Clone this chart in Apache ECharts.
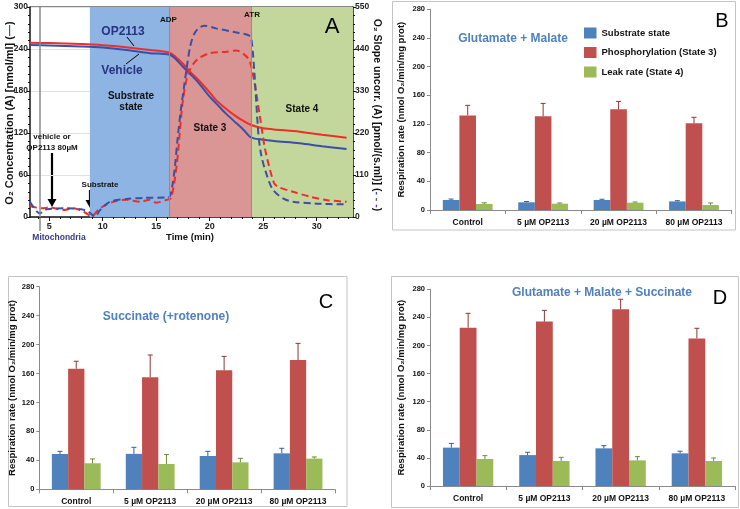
<!DOCTYPE html>
<html><head><meta charset="utf-8">
<script src="https://cdn.jsdelivr.net/npm/echarts@6/dist/echarts.min.js"></script>
<style>html,body{margin:0;padding:0;background:#fff}#c{width:740px;height:509px}</style>
</head><body><div id="c"></div>
<script>
// ---------- Panel A data (time in min) ----------
const o2OpT  = [3.2,5,8,10,12,14.4,16.2,16.8,17.5,18.15,19,20,20.6,21.5,22.5,23.3,23.9,24.5,25,26,28.4,30.5,32.8];
const o2OpV  = [249,248.5,247,245.5,243,238.6,235,229,219,207.6,195,178,167,155,143.3,136,131.4,128.5,126.7,125,121.9,117.5,113.3];
const o2VehT = [3.2,5,8,10,12,14.4,16.2,16.8,17.5,18.2,19,20,20.6,21.5,22.5,23.2,23.76,24.2,24.7,26,28.4,30.5,32.8];
const o2VehV = [245.7,245,243.5,242,239,234,232,226,214.7,204,191,172,162.4,148,133.9,124,114.7,112,111,108.5,105.3,101,97];
const slopeVehT = [3.2,4.13,4.76,6.6,8.0,8.65,9.27,9.74,10.67,12.2,13.8,16.0,16.25,16.5,16.75,17.0,17.3,17.55,17.85,18.2,18.6,19.0,19.5,20.6,22.2,23.76,23.95,24.2,24.55,24.8,25.2,25.9,26.9,27.8,30,32.8];
const slopeVehV = [40,9.6,20,22.7,20,14,1,18,40,47,50,51,53,80,132,205,280,330,390,450,482,495,501,494,485,474,455,370,219,165,122,72,48,40,35,33];
const slopeOpT = [3.2,4.3,5.06,6.3,7.25,8.2,8.96,9.74,11,12.2,13.5,14.4,15,16,16.4,16.9,17.2,17.5,18,18.78,20,21.6,22.5,23.3,23.76,24.2,24.7,25.2,26,26.4,27.8,29.4,31,32.8];
const slopeOpV = [29,22.7,25,18.3,22.7,14,2.6,22.7,40,45,40,45,37.5,45,50,132,219,306,376,411,429,433,436,424,407,350,263,175,90,79,66,53,44,40];
const regionStart = [8.8, 16.2, 23.9];
const regionEnd   = [16.2, 23.9, 33.4];
const eventLines  = [16.2, 23.9];
const mitoTime    = 4.13;
const timeTicks   = [5, 10, 15, 20, 25, 30];
const timeMinor   = [4,5,6,7,8,9,10,11,12,13,14,15,16,17,18,19,20,21,22,23,24,25,26,27,28,29,30,31,32,33];

// ---------- Panels B, C, D ----------
const categories = ['Control', '5 µM OP2113', '20 µM OP2113', '80 µM OP2113'];
const seriesNames = ['Substrate state', 'Phosphorylation (State 3)', 'Leak rate (State 4)'];
const bSub = [14, 10.7, 14, 12],      bSubErr = [1.3, 1.2, 1, 1];
const bS3  = [132, 130.7, 140.5, 121], bS3Err = [14, 18, 11, 8.3];
const bS4  = [8.4, 8.8, 10.2, 7],     bS4Err = [1.6, 1, 1, 2.8];
const cSub = [48.8, 49, 46, 49.7],    cSubErr = [3.7, 9, 6.5, 7];
const cS3  = [166.7, 155, 164.4, 178.7], cS3Err = [10.3, 30.6, 19.3, 23];
const cS4  = [36, 35, 37.3, 42.4],    cS4Err = [6, 13, 5.5, 2.3];
const dSub = [54.6, 44, 53.6, 46.5],  dSubErr = [6, 4, 3.8, 3];
const dS3  = [225.4, 234, 251.5, 210], dS3Err = [20.4, 16, 14.3, 14.5];
const dS4  = [38.4, 35.6, 36.5, 35.6], dS4Err = [4.8, 5.2, 5.3, 4.3];
const barTicks = [0, 40, 80, 120, 160, 200, 240, 280];

const FONT = '"Liberation Sans", Arial, sans-serif';
const barColors = ['#4f81bd', '#c0504d', '#9bbb59'];
const errColors = ['#3b5f8c', '#8a3836', '#6e8a3a'];
const regionColors = ['#8db4e2', '#d99694', '#c3d69b'];
const RED = '#ec2f2c', BLUE = '#3c4fa6', NAVY = '#27337e';
const GAP = 0.34;

const zip = (t, v) => t.map((x, i) => [x, v[i]]);

function barYAxis(grid, nameGap) {
  return {
    type: 'value', gridIndex: grid, min: 0, max: barTicks[barTicks.length - 1], interval: 40,
    name: 'Respiration rate (nmol O₂/min/mg prot)', nameLocation: 'middle', nameGap: nameGap,
    nameTextStyle: { fontFamily: FONT, fontWeight: 'bold', fontSize: 9.5, color: '#111' },
    axisLine: { show: true, lineStyle: { color: '#8a8a8a', width: 1 } },
    axisTick: { show: true, length: 3, lineStyle: { color: '#8a8a8a' } },
    axisLabel: { fontFamily: FONT, fontWeight: 'bold', fontSize: 7.5, color: '#111', margin: 5 },
    splitLine: { show: false }
  };
}
function barXAxis(grid) {
  return {
    type: 'category', gridIndex: grid, data: categories,
    axisLine: { lineStyle: { color: '#8a8a8a', width: 1 } },
    axisTick: { show: true, length: 4, lineStyle: { color: '#8a8a8a' } },
    axisLabel: { interval: 0, fontFamily: FONT, fontWeight: 'bold', fontSize: 8.5, color: '#111', margin: 8 }
  };
}
function barSeries(xi, yi, vals, k) {
  return { type: 'bar', name: seriesNames[k], xAxisIndex: xi, yAxisIndex: yi, data: vals,
    barGap: '0%', barCategoryGap: (GAP * 100) + '%', itemStyle: { color: barColors[k] }, silent: true };
}
function errSeries(xi, yi, vals, errs, k) {
  return {
    type: 'custom', xAxisIndex: xi, yAxisIndex: yi, z: 5, silent: true,
    data: vals.map((v, i) => [i, v, v + errs[i]]),
    renderItem: function (params, api) {
      const base = api.coord([api.value(0), api.value(1)]);
      const top = api.coord([api.value(0), api.value(2)]);
      const band = api.size([1, 0])[0];
      const bw = band * (1 - GAP) / 3;
      const x = base[0] + (k - 1) * bw;
      const st = { stroke: errColors[k], lineWidth: 1 };
      return { type: 'group', children: [
        { type: 'line', shape: { x1: x, y1: base[1], x2: x, y2: top[1] }, style: st },
        { type: 'line', shape: { x1: x - 2.5, y1: top[1], x2: x + 2.5, y2: top[1] }, style: st }
      ] };
    }
  };
}
function txt(x, y, text, size, opts) {
  opts = opts || {};
  return { type: 'text', x: x, y: y, rotation: opts.rot || 0, z: 100, silent: true,
    style: { text: text, fontFamily: FONT, fontSize: size, fontWeight: opts.weight || 'bold',
      fill: opts.color || '#111', align: opts.align || 'center', verticalAlign: 'middle', rich: opts.rich } };
}
function arrow(x, y1, y2) {
  return { type: 'group', z: 100, silent: true, children: [
    { type: 'line', shape: { x1: x, y1: y1, x2: x, y2: y2 - 6 }, style: { stroke: '#000', lineWidth: 2.2 } },
    { type: 'polygon', shape: { points: [[x - 4.5, y2 - 8], [x + 4.5, y2 - 8], [x, y2]] }, style: { fill: '#000' } }
  ] };
}
function frame(x, y, w, h) {
  return { type: 'rect', shape: { x: x, y: y, width: w, height: h }, silent: true,
    style: { fill: 'none', stroke: '#c4c4c4', lineWidth: 1 } };
}

const axisFontA = { fontFamily: FONT, fontWeight: 'bold', fontSize: 8.5, color: '#222' };

const option = {
  animation: false,
  backgroundColor: '#fff',
  grid: [
    { left: 30, top: 7, width: 323, height: 210 },
    { left: 430, top: 9.3, width: 301.7, height: 200.7 },
    { left: 39.3, top: 286.7, width: 295.7, height: 202.6 },
    { left: 430, top: 289.3, width: 305, height: 196.7 }
  ],
  legend: {
    data: seriesNames, orient: 'vertical', left: 584, top: 27.5, padding: 0,
    itemWidth: 12.5, itemHeight: 11, itemGap: 8.5, icon: 'rect', selectedMode: false,
    textStyle: { fontFamily: FONT, fontWeight: 'bold', fontSize: 9.5, color: '#111' }
  },
  xAxis: [
    { type: 'value', gridIndex: 0, min: 3.2, max: 33.4, position: 'bottom',
      axisLine: { onZero: false, lineStyle: { color: '#111', width: 1.5 } },
      axisTick: { length: 4, customValues: timeTicks, lineStyle: { color: '#111' } },
      axisLabel: Object.assign({ margin: 5, customValues: timeTicks }, axisFontA, { fontSize: 9 }),
      splitLine: { show: false } },
    barXAxis(1), barXAxis(2), barXAxis(3),
    { type: 'value', gridIndex: 0, min: 3.2, max: 33.4, position: 'bottom',
      axisLine: { show: false, onZero: false },
      axisTick: { show: true, length: 2, customValues: timeMinor, lineStyle: { color: '#111' } },
      axisLabel: { show: false }, splitLine: { show: false } }
  ],
  yAxis: [
    { type: 'value', gridIndex: 0, min: 0, max: 300, interval: 60,
      axisLine: { show: true, lineStyle: { color: '#111', width: 1.5 } },
      axisTick: { show: true, length: 3, lineStyle: { color: '#111' } },
      minorTick: { show: true, splitNumber: 5, length: 2, lineStyle: { color: '#111' } },
      axisLabel: Object.assign({ margin: 2 }, axisFontA),
      splitLine: { show: true, lineStyle: { color: '#e2e2e2', width: 1 } } },
    { type: 'value', gridIndex: 0, min: 0, max: 550, interval: 110, position: 'right',
      axisLine: { show: true, lineStyle: { color: '#111', width: 1.5 } },
      axisTick: { show: true, length: 3, lineStyle: { color: '#111' } },
      minorTick: { show: true, splitNumber: 5, length: 2, lineStyle: { color: '#111' } },
      axisLabel: Object.assign({ margin: 2 }, axisFontA),
      splitLine: { show: false } },
    barYAxis(1, 24), barYAxis(2, 22), barYAxis(3, 24)
  ],
  series: [
    { type: 'line', name: 'OP2113 O2', xAxisIndex: 0, yAxisIndex: 0, data: zip(o2OpT, o2OpV),
      showSymbol: false, smooth: 0.3, lineStyle: { color: RED, width: 2 }, itemStyle: { color: RED }, z: 3,
      markArea: { silent: true, data: regionStart.map((s, i) => [{ xAxis: s, itemStyle: { color: regionColors[i] } }, { xAxis: regionEnd[i] }]) },
      markLine: { silent: true, symbol: 'none', label: { show: false },
        lineStyle: { color: '#8e8e8e', width: 1, type: 'solid' },
        data: eventLines.map(t => ({ xAxis: t })).concat([{ xAxis: mitoTime, lineStyle: { color: '#8a8a8a', width: 1.5, type: 'solid' } }]) } },
    { type: 'line', name: 'Vehicle O2', xAxisIndex: 0, yAxisIndex: 0, data: zip(o2VehT, o2VehV),
      showSymbol: false, smooth: 0.3, lineStyle: { color: BLUE, width: 2 }, itemStyle: { color: BLUE }, z: 3 },
    { type: 'line', name: 'OP2113 slope', xAxisIndex: 0, yAxisIndex: 1, data: zip(slopeOpT, slopeOpV),
      showSymbol: false, smooth: 0.3, lineStyle: { color: RED, width: 2, type: [7, 4] }, itemStyle: { color: RED }, z: 4 },
    { type: 'line', name: 'Vehicle slope', xAxisIndex: 0, yAxisIndex: 1, data: zip(slopeVehT, slopeVehV),
      showSymbol: false, smooth: 0.3, lineStyle: { color: BLUE, width: 2, type: [7, 4] }, itemStyle: { color: BLUE }, z: 4 },

    barSeries(1, 2, bSub, 0), barSeries(1, 2, bS3, 1), barSeries(1, 2, bS4, 2),
    errSeries(1, 2, bSub, bSubErr, 0), errSeries(1, 2, bS3, bS3Err, 1), errSeries(1, 2, bS4, bS4Err, 2),
    barSeries(2, 3, cSub, 0), barSeries(2, 3, cS3, 1), barSeries(2, 3, cS4, 2),
    errSeries(2, 3, cSub, cSubErr, 0), errSeries(2, 3, cS3, cS3Err, 1), errSeries(2, 3, cS4, cS4Err, 2),
    barSeries(3, 4, dSub, 0), barSeries(3, 4, dS3, 1), barSeries(3, 4, dS4, 2),
    errSeries(3, 4, dSub, dSubErr, 0), errSeries(3, 4, dS3, dS3Err, 1), errSeries(3, 4, dS4, dS4Err, 2)
  ],
  graphic: [
    frame(392.5, 1.5, 343, 228.5),
    frame(8.5, 276.5, 338.5, 230),
    frame(391.5, 276.5, 347, 231),
    { type: 'line', silent: true, shape: { x1: 30, y1: 7, x2: 353, y2: 7 }, style: { stroke: '#111', lineWidth: 1.2 } },
    { type: 'line', silent: true, shape: { x1: 40, y1: 217, x2: 40, y2: 231 }, style: { stroke: '#8a8a8a', lineWidth: 1.5 } },
    txt(10, 113, 'O₂ Concentration (A) [nmol/ml] ({b|—})', 11, { rot: Math.PI / 2,
      rich: { b: { fill: BLUE, fontFamily: FONT, fontSize: 11, fontWeight: 'bold' } } }),
    txt(377, 115, 'O₂ Slope uncorr. (A) [pmol/(s.ml)] ({b|- - -})', 10.5, { rot: -Math.PI / 2,
      rich: { b: { fill: BLUE, fontFamily: FONT, fontSize: 10.5, fontWeight: 'bold' } } }),
    txt(190, 237, 'Time (min)', 9.5),
    txt(59, 238, 'Mitochondria', 8.5, { color: '#3a3a8a' }),
    txt(123, 32, 'OP2113', 12, { color: NAVY }),
    txt(122, 71, 'Vehicle', 12, { color: NAVY }),
    { type: 'line', silent: true, z: 100, shape: { x1: 127, y1: 37, x2: 134, y2: 46 }, style: { stroke: '#000', lineWidth: 1 } },
    { type: 'line', silent: true, z: 100, shape: { x1: 126, y1: 64, x2: 139, y2: 54 }, style: { stroke: '#000', lineWidth: 1 } },
    txt(131, 96, 'Substrate', 10),
    txt(131, 107, 'state', 10),
    txt(210, 128, 'State 3', 10),
    txt(302, 109, 'State 4', 10),
    txt(332, 27, 'A', 22, { weight: 'normal', color: '#000' }),
    txt(168.5, 20, 'ADP', 8),
    arrow(169, 27, 48),
    txt(252, 15, 'ATR', 8),
    arrow(252, 20, 34),
    txt(100, 185, 'Substrate', 8),
    arrow(90, 190, 208),
    txt(52, 137, 'vehicle or', 8),
    txt(52, 148, 'OP2113 80µM', 8),
    arrow(52, 153, 207),
    txt(513, 39, 'Glutamate + Malate', 12, { color: '#4f81bd' }),
    txt(722, 21, 'B', 20, { weight: 'normal', color: '#000' }),
    txt(166, 317, 'Succinate (+rotenone)', 12, { color: '#4f81bd' }),
    txt(326, 302, 'C', 20, { weight: 'normal', color: '#000' }),
    txt(602, 293, 'Glutamate + Malate + Succinate', 12, { color: '#4f81bd' }),
    txt(720, 298, 'D', 20, { weight: 'normal', color: '#000' })
  ]
};
const chart = echarts.init(document.getElementById('c'), null, { renderer: 'canvas' });
chart.setOption(option);
</script>
</body></html>
